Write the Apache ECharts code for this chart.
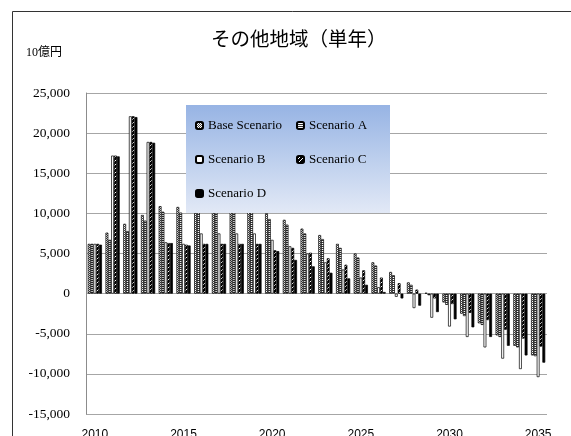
<!DOCTYPE html>
<html>
<head>
<meta charset="utf-8">
<script src="https://cdn.jsdelivr.net/npm/echarts@6/dist/echarts.min.js"></script>
<style>
  html, body { margin: 0; padding: 0; background: #fff; overflow: hidden; }
  #chart { width: 571px; height: 436px; }
</style>
</head>
<body>
<div id="chart"></div>
<script>
// Years on the category axis
const years = ['2010','2011','2012','2013','2014','2015','2016','2017','2018','2019',
  '2020','2021','2022','2023','2024','2025','2026','2027','2028','2029',
  '2030','2031','2032','2033','2034','2035'];

// Single-year values per scenario (10億円)
const baseScenario = [6200, 7600, 8700, 9800, 10900, 10800, 10700, 10600, 10500, 10300,
  10000, 9200, 8100, 7300, 6200, 5000, 3900, 2700, 1400, 100,
  -1100, -2500, -3700, -5200, -6500, -7700];
const scenarioA = [6200, 6700, 7800, 9100, 10200, 10100, 10100, 10100, 10100, 10100,
  9300, 8600, 7500, 6800, 5700, 4500, 3500, 2300, 1100, -200,
  -1400, -2800, -3900, -5400, -6700, -7800];
const scenarioB = [6200, 17200, 22100, 18900, 6400, 6200, 7500, 7500, 7500, 7500,
  6700, 5900, 5000, 3900, 3000, 2000, 800, -400, -1800, -3000,
  -4100, -5400, -6700, -8100, -9400, -10400];
const scenarioC = [6200, 17200, 22100, 18900, 6300, 6100, 6200, 6200, 6200, 6200,
  5400, 5700, 5100, 4400, 3600, 2900, 2000, 1300, 500, -600,
  -1300, -2400, -3300, -4500, -5600, -6600];
const scenarioD = [6100, 17100, 22000, 18800, 6300, 6000, 6200, 6200, 6200, 6200,
  5300, 4200, 3400, 2600, 1900, 1100, 200, -600, -1500, -2300,
  -3200, -4200, -5400, -6500, -7700, -8600];

const seriesNames = ['Base Scenario', 'Scenario A', 'Scenario B', 'Scenario C', 'Scenario D'];
const yTicks = { min: -15000, max: 25000, step: 5000 };

// Small repeating fills drawn on canvas
function tile(w, h, draw) {
  const c = document.createElement('canvas');
  c.width = w; c.height = h;
  const ctx = c.getContext('2d');
  ctx.fillStyle = '#fff';
  ctx.fillRect(0, 0, w, h);
  ctx.fillStyle = '#000';
  draw(ctx);
  return { image: c, repeat: 'repeat' };
}
const fillBase = tile(2, 2, ctx => { ctx.fillStyle = '#444'; ctx.fillRect(0, 0, 1, 1); ctx.fillRect(1, 1, 1, 1); });
const fillA = tile(2, 2, ctx => { ctx.fillStyle = '#333'; ctx.fillRect(0, 0, 2, 1); });
const fillB = '#ffffff';
const fillC = tile(4, 4, ctx => {
  ctx.fillRect(0, 0, 4, 4);
  ctx.fillStyle = '#fff';
  for (let i = 0; i < 4; i++) ctx.fillRect(3 - i, i, 1, 1);
});
const fillD = '#000000';

const fills = [fillBase, fillA, fillB, fillC, fillD];
const values = [baseScenario, scenarioA, scenarioB, scenarioC, scenarioD];

const chart = echarts.init(document.getElementById('chart'), null, { renderer: 'canvas', width: 571, height: 436 });

const legendText = { fontFamily: 'Liberation Serif', fontSize: 13, color: '#000' };

chart.setOption({
  animation: false,
  backgroundColor: '#fff',
  title: [
    {
      text: 'その他地域（単年）',
      left: 206, top: 24,
      textStyle: { fontFamily: 'Noto Sans CJK JP', fontSize: 19.5, fontWeight: 'normal', color: '#000' }
    },
    {
      text: '10億円',
      left: 21, top: 42,
      textStyle: { fontFamily: 'Liberation Serif, Noto Sans CJK JP', fontSize: 12, fontWeight: 'normal', color: '#000' }
    }
  ],
  graphic: [
    {
      type: 'rect', z: 0, silent: true,
      shape: { x: 12.5, y: 11.5, width: 700, height: 600 },
      style: { fill: 'none', stroke: '#333', lineWidth: 1 }
    },
    {
      type: 'rect', z: 50, silent: true,
      shape: { x: 186, y: 105, width: 204, height: 108 },
      style: {
        fill: new echarts.graphic.LinearGradient(0, 0, 0, 1, [
          { offset: 0, color: '#97b4e4' },
          { offset: 1, color: '#e2e9f6' }
        ])
      }
    }
  ],
  legend: [
    {
      z: 60, orient: 'vertical', left: 195, top: 119, padding: 0,
      itemWidth: 7, itemHeight: 7, itemGap: 21,
      data: [seriesNames[0], seriesNames[2], seriesNames[4]],
      textStyle: legendText
    },
    {
      z: 60, orient: 'vertical', left: 296, top: 119, padding: 0,
      itemWidth: 7, itemHeight: 7, itemGap: 21,
      data: [seriesNames[1], seriesNames[3]],
      textStyle: legendText
    }
  ],
  grid: { left: 86, top: 93, width: 461, height: 321, containLabel: false, outerBoundsMode: 'none' },
  xAxis: {
    type: 'category',
    data: years,
    axisLine: { show: false },
    axisTick: { show: false },
    axisLabel: {
      interval: 4, margin: 15,
      fontFamily: 'Liberation Sans', fontSize: 12, color: '#000'
    },
    splitLine: { show: false }
  },
  yAxis: {
    type: 'value',
    min: yTicks.min, max: yTicks.max, interval: yTicks.step,
    axisLine: { show: true, lineStyle: { color: '#8c8c8c', width: 1 } },
    axisTick: { show: false },
    axisLabel: {
      margin: 16,
      fontFamily: 'Liberation Serif', fontSize: 13.5, color: '#000',
      formatter: v => v.toLocaleString('en-US')
    },
    splitLine: { show: true, lineStyle: { color: '#a6a6a6', width: 1 } }
  },
  series: seriesNames.map((name, i) => ({
    name,
    type: 'bar',
    data: values[i],
    barGap: '0%',
    barCategoryGap: '20%',
    itemStyle: { color: fills[i], borderColor: '#000', borderWidth: 0.7 }
  }))
});
</script>
</body>
</html>
